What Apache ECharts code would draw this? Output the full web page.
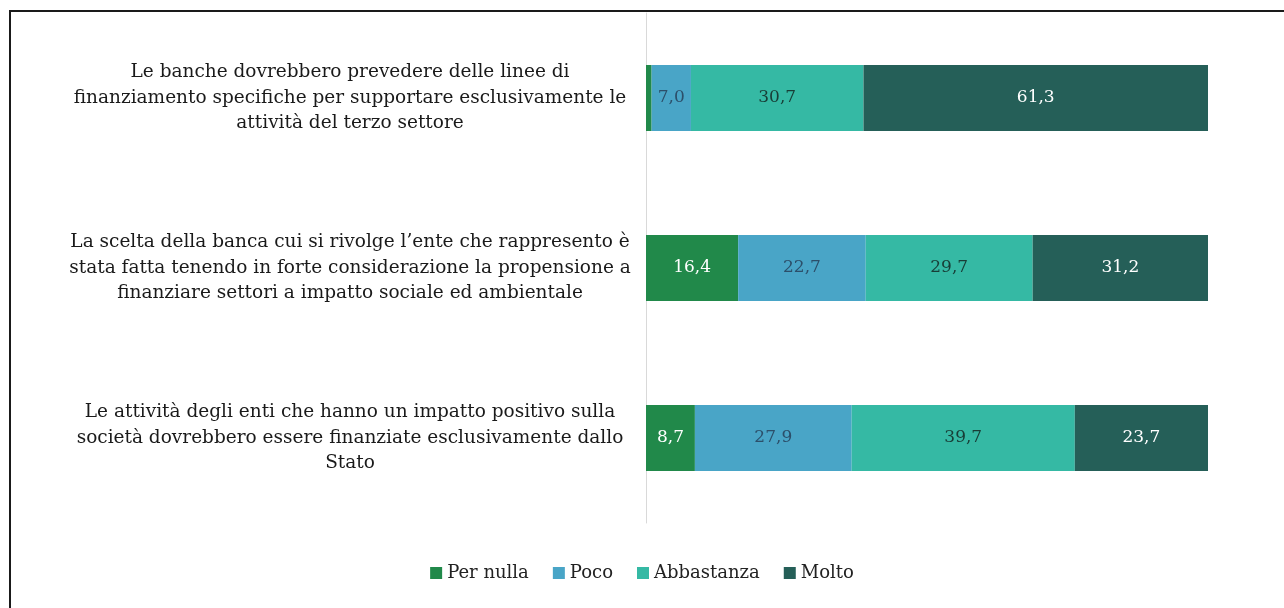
<!DOCTYPE html>
<html>
<head>
<meta charset="utf-8">
<script src="https://cdn.jsdelivr.net/npm/echarts@6/dist/echarts.min.js"></script>
<style>
  html, body { margin: 0; padding: 0; background: #fff; }
  .frame {
    position: absolute; left: 9px; top: 10px; width: 1300px; height: 620px;
    border-left: 2px solid #1a1a1a; border-top: 2px solid #1a1a1a;
  }
  #chart { position: absolute; left: 0; top: 0; width: 1284px; height: 608px; }
</style>
</head>
<body>
<div class="frame"></div>
<div id="chart"></div>
<script>
  // categorie (dal basso verso l'alto come nell'asse)
  var categories = [
    "Le attività degli enti che hanno un impatto positivo sulla\nsocietà dovrebbero essere finanziate esclusivamente dallo\nStato",
    "La scelta della banca cui si rivolge l’ente che rappresento è\nstata fatta tenendo in forte considerazione la propensione a\nfinanziare settori a impatto sociale ed ambientale",
    "Le banche dovrebbero prevedere delle linee di\nfinanziamento specifiche per supportare esclusivamente le\nattività del terzo settore"
  ];
  var perNulla = [8.7, 16.4, 1.0];
  var poco = [27.9, 22.7, 7.0];
  var abbastanza = [39.7, 29.7, 30.7];
  var molto = [23.7, 31.2, 61.3];

  var serif = '"DejaVu Serif", "Liberation Serif", serif';

  function lbl(color) {
    return {
      show: true,
      color: color,
      fontFamily: serif,
      fontSize: 17,
      formatter: function (p) {
        // valori troppo piccoli non etichettati
        if (p.value < 3) return '';
        return p.value.toFixed(1).replace('.', ',');
      }
    };
  }

  function serie(name, data, color, labelColor) {
    return {
      name: name,
      type: 'bar',
      stack: 'tot',
      data: data,
      barWidth: 66,
      itemStyle: { color: color },
      label: lbl(labelColor)
    };
  }

  var myChart = echarts.init(document.getElementById('chart'));
  myChart.setOption({
    animation: false,
    grid: { left: 646, right: 76, top: 13, bottom: 85 },
    legend: {
      bottom: 21,
      left: 'center',
      itemWidth: 12,
      itemHeight: 12,
      itemGap: 24,
      icon: 'rect',
      textStyle: { fontFamily: serif, fontSize: 18, color: '#222' },
      data: ['Per nulla', 'Poco', 'Abbastanza', 'Molto']
    },
    xAxis: {
      type: 'value',
      min: 0,
      max: 100,
      show: false
    },
    yAxis: {
      type: 'category',
      data: categories,
      axisLine: { show: true, lineStyle: { color: '#d9d9d9', width: 1 } },
      axisTick: { show: false },
      axisLabel: {
        margin: 296,
        align: 'center',
        lineHeight: 25.5,
        fontFamily: serif,
        fontSize: 18.5,
        color: '#1a1a1a'
      }
    },
    series: [
      serie('Per nulla', perNulla, '#21894a', '#ffffff'),
      serie('Poco', poco, '#49a5c7', '#2c4f6a'),
      serie('Abbastanza', abbastanza, '#35b9a4', '#183d36'),
      serie('Molto', molto, '#255f58', '#ffffff')
    ]
  });
</script>
</body>
</html>
